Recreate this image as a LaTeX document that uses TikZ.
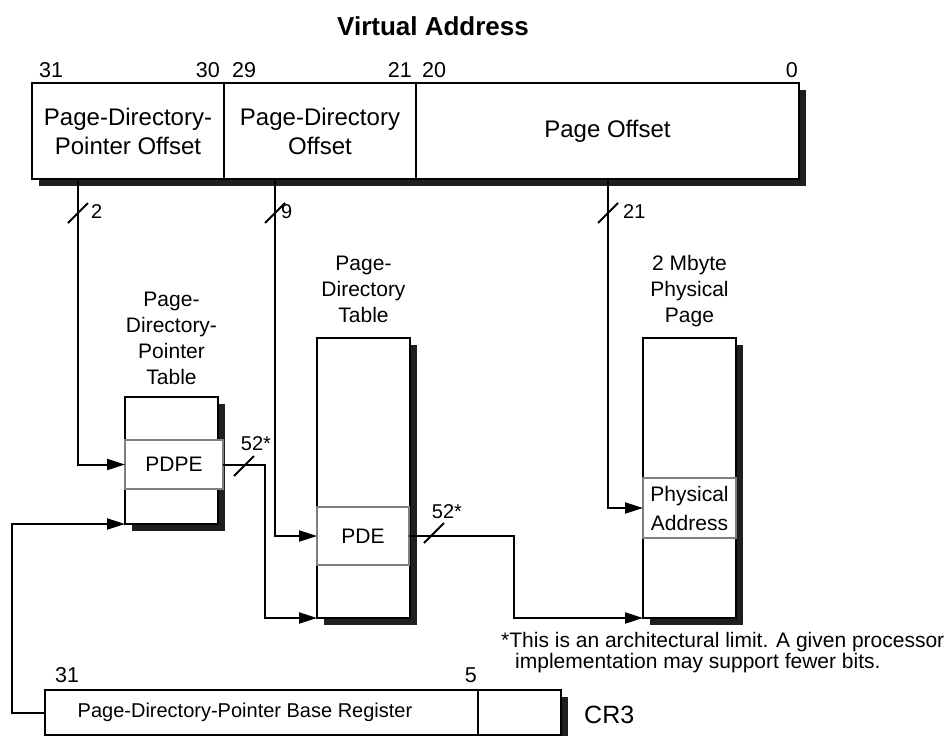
\documentclass[tikz,border=0pt]{standalone}
\usepackage{fontspec}
\setmainfont{Liberation Sans}
\usetikzlibrary{arrows.meta}
\usetikzlibrary{shadows}
\usetikzlibrary{positioning}

\newcommand\fsz[2]{\fontsize{#1}{#2}\selectfont}

\tikzset{
  field/.style={draw,line width=2pt,fill=white,anchor=north west,inner sep=0pt,outer sep=0pt,align=center,
    drop shadow={shadow xshift=7pt,shadow yshift=-7pt,fill=black!88,opacity=1}},
  entry/.style={draw=gray,line width=2pt,fill=white,anchor=north west,inner sep=0pt,outer sep=0pt,align=center,font=\fsz{21}{29}},
  link/.style={line width=2pt,-{Triangle[length=18pt,width=11pt]}},
  slash/.style={line width=2pt},
  bit/.style={inner sep=0pt,font=\fsz{21.5}{26}},
  width/.style={inner sep=0pt,font=\fsz{20}{24}},
  tlabel/.style={inner sep=0pt,outer sep=0pt,align=center,font=\fsz{21}{26}},
}

\begin{document}
\begin{tikzpicture}[x=1pt,y=-1pt]
\useasboundingbox (0,0) rectangle (948,736);

\node[font=\fsz{26}{30}\bfseries,anchor=base] (title) at (433,35) {Virtual Address};

% virtual address fields
\node[field,minimum width=192pt,minimum height=96pt,font=\fsz{24}{29}] (pdpo) at (32,83) {Page-Directory-\\Pointer Offset};
\node[field,minimum width=192pt,minimum height=96pt,font=\fsz{24}{29}] (pdo) at (224,83) {Page-Directory\\Offset};
\node[field,minimum width=383pt,minimum height=96pt,font=\fsz{24}{29}] (po) at (416,83) {Page Offset};

\node[bit,anchor=base west] (b31) at (39,77) {31};
\node[bit,anchor=base east] (b30) at (220,77) {30};
\node[bit,anchor=base west] (b29) at (232,77) {29};
\node[bit,anchor=base east] (b21) at (412,77) {21};
\node[bit,anchor=base west] (b20) at (422,77) {20};
\node[bit,anchor=base east] (b0) at (798,77) {0};

% tables
\node[field,minimum width=93pt,minimum height=127pt] (pdpt) at (125,397) {};
\node[field,minimum width=93pt,minimum height=280pt] (pdt) at (317,338) {};
\node[field,minimum width=93pt,minimum height=280pt] (pp) at (643,338) {};

\node[tlabel,above=12pt of pdpt] (pdptlbl) {Page-\\Directory-\\Pointer\\Table};
\node[tlabel,above=15pt of pdt] (pdtlbl) {Page-\\Directory\\Table};
\node[tlabel,above=11pt of pp] (pplbl) {2 Mbyte\\Physical\\Page};

\node[entry,minimum width=98pt,minimum height=49pt] (pdpe) at (125,440) {PDPE};
\node[entry,minimum width=92pt,minimum height=58pt] (pde) at (317,507) {PDE};
\node[entry,minimum width=93pt,minimum height=60pt] (pa) at (643,478) {Physical\\Address};

% CR3
\node[field,minimum width=433pt,minimum height=45pt,font=\fsz{20}{24}] (pdpbr) at (45,690) {Page-Directory-Pointer Base Register\hspace*{33pt}};
\node[field,minimum width=83pt,minimum height=45pt] (rsv) at (478,690) {};
\node[bit,anchor=base west] (r31) at (55,682) {31};
\node[bit,anchor=base east] (r5) at (477,682) {5};
\node[font=\fsz{25}{29},anchor=west,inner sep=0pt] (cr3) at (584,715) {CR3};

\node[anchor=west,align=left,inner sep=0pt,font=\fsz{21}{21}] (note) at (501,653) {*This is an architectural limit. A given processor\\\hspace*{14pt}implementation may support fewer bits.};

% connectors
\coordinate (tap2) at (78,179);
\coordinate (tap9) at (275,179);
\coordinate (tap21) at (608,179);

\draw[link] (tap2) |- (pdpe.west);
\draw[link] (tap9) |- (pde.west);
\draw[link] (tap21) |- (pa.west);
\draw[link] (pdpe.east) -- ++(42,0) |- (pdt.south west);
\draw[link] (pde.east) -- ++(105,0) |- (pp.south west);
\draw[link] (pdpbr.west) -- ++(-33,0) |- (pdpt.south west);

\draw[slash] (68,223) -- (88,203);
\draw[slash] (265,223) -- (285,203);
\draw[slash] (598,223) -- (618,203);
\draw[slash] (234,476) -- (254,456);
\draw[slash] (424,543) -- (444,523);

\node[width,anchor=west] (w2) at (91,212) {2};
\node[width,anchor=west] (w9) at (281,212) {9};
\node[width,anchor=west] (w21) at (623,212) {21};
\node[width] (w52a) at (256,444) {52*};
\node[width] (w52b) at (447,512) {52*};
\end{tikzpicture}
\end{document}
